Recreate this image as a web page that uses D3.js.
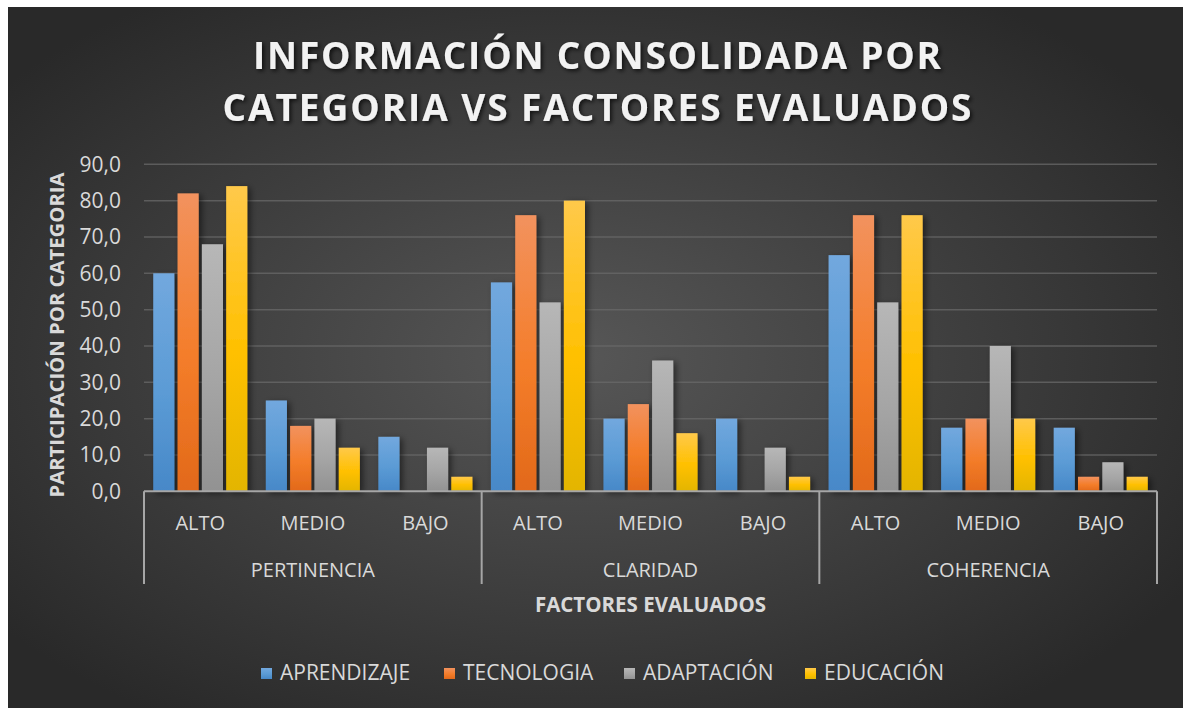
<!DOCTYPE html>
<html>
<head>
<meta charset="utf-8">
<script src="https://cdn.jsdelivr.net/npm/d3@7"></script>
<style>
  body { margin: 0; background: #fff; }
  text { font-family: "Open Sans", "Noto Sans", sans-serif; }
</style>
</head>
<body>
<div id="chart"></div>
<script>
// Data
var groups = ["PERTINENCIA", "CLARIDAD", "COHERENCIA"];
var levels = ["ALTO", "MEDIO", "BAJO"];
var seriesNames = ["APRENDIZAJE", "TECNOLOGIA", "ADAPTACIÓN", "EDUCACIÓN"];
var aprendizaje = [60, 25, 15, 57.5, 20, 20, 65, 17.5, 17.5];
var tecnologia  = [82, 18, 0, 76, 24, 0, 76, 20, 4];
var adaptacion  = [68, 20, 12, 52, 36, 12, 52, 40, 8];
var educacion   = [84, 12, 4, 80, 16, 4, 76, 20, 4];
var yTicks = [0, 10, 20, 30, 40, 50, 60, 70, 80, 90];
var titleLines = ["INFORMACIÓN CONSOLIDADA POR", "CATEGORIA VS FACTORES EVALUADOS"];

var seriesValues = [aprendizaje, tecnologia, adaptacion, educacion];

// colours: top, middle, bottom of the bar gradient
var seriesColors = [
  ["#72a8de", "#5b9bd5", "#4788c8"],
  ["#f2925e", "#f47d2a", "#e2691a"],
  ["#b7b7b7", "#a5a5a5", "#929292"],
  ["#ffc94a", "#ffc000", "#e3b500"]
];

var width = 1183, height = 708;
var plot = { left: 144, right: 1157, top: 164.3, bottom: 491.3 };
var textColor = "#d9d9d9";

// flat list of categories (group x level)
var cats = [];
groups.forEach(function(g) {
  levels.forEach(function(l) { cats.push(g + "|" + l); });
});

var svg = d3.select("#chart").append("svg")
  .attr("width", width)
  .attr("height", height);

var defs = svg.append("defs");

var bg = defs.append("radialGradient")
  .attr("id", "bg")
  .attr("cx", "0.48").attr("cy", "0.5").attr("r", "0.62");
bg.append("stop").attr("offset", "0").attr("stop-color", "#575757");
bg.append("stop").attr("offset", "1").attr("stop-color", "#292929");

seriesColors.forEach(function(c, i) {
  var g = defs.append("linearGradient")
    .attr("id", "grad" + i)
    .attr("x1", 0).attr("y1", 0).attr("x2", 0).attr("y2", 1);
  g.append("stop").attr("offset", "0").attr("stop-color", c[0]);
  g.append("stop").attr("offset", "0.55").attr("stop-color", c[1]);
  g.append("stop").attr("offset", "1").attr("stop-color", c[2]);
});

var shadow = defs.append("filter").attr("id", "shadow")
  .attr("x", "-30%").attr("y", "-10%").attr("width", "160%").attr("height", "130%");
shadow.append("feDropShadow")
  .attr("dx", 3).attr("dy", 2).attr("stdDeviation", 3)
  .attr("flood-color", "#000").attr("flood-opacity", 0.5);

var tshadow = defs.append("filter").attr("id", "tshadow")
  .attr("x", "-10%").attr("y", "-30%").attr("width", "120%").attr("height", "160%");
tshadow.append("feDropShadow")
  .attr("dx", 2).attr("dy", 2).attr("stdDeviation", 2)
  .attr("flood-color", "#000").attr("flood-opacity", 0.7);

// chart area background
svg.append("rect")
  .attr("x", 8).attr("y", 7)
  .attr("width", width - 8).attr("height", height - 7)
  .attr("fill", "url(#bg)");

// scales
var x = d3.scaleBand().domain(cats).range([plot.left, plot.right]);
var xGroup = d3.scaleBand().domain(groups).range([plot.left, plot.right]);
var xInner = d3.scaleBand().domain(d3.range(seriesNames.length))
  .range([0, x.bandwidth()])
  .paddingInner(0.13)
  .paddingOuter(0.38);
var y = d3.scaleLinear().domain([0, 90]).range([plot.bottom, plot.top]);

// gridlines
svg.append("g")
  .selectAll("line")
  .data(yTicks.slice(1))
  .enter().append("line")
  .attr("x1", plot.left).attr("x2", plot.right)
  .attr("y1", function(d) { return y(d); })
  .attr("y2", function(d) { return y(d); })
  .attr("stroke", "#6a6a6a")
  .attr("stroke-opacity", 0.75)
  .attr("stroke-width", 1.5);

// y axis labels
var yAxis = svg.append("g")
  .attr("transform", "translate(" + (plot.left - 12) + ",0)")
  .call(d3.axisLeft(y).tickValues(yTicks).tickSize(0)
    .tickFormat(function(d) { return d3.format(".1f")(d).replace(".", ","); }));
yAxis.select(".domain").remove();
yAxis.selectAll("text")
  .attr("x", -11)
  .attr("fill", textColor)
  .style("font-size", "21px")
  .style("font-family", "'Open Sans', sans-serif");

// bars
var series = svg.append("g").selectAll("g")
  .data(seriesValues)
  .enter().append("g")
  .attr("fill", function(d, i) { return "url(#grad" + i + ")"; })
  .attr("filter", "url(#shadow)");

series.each(function(vals, si) {
  d3.select(this).selectAll("rect")
    .data(vals)
    .enter().append("rect")
    .attr("x", function(d, ci) { return x(cats[ci]) + xInner(si); })
    .attr("width", xInner.bandwidth())
    .attr("y", function(d) { return y(d); })
    .attr("height", function(d) { return y(0) - y(d); });
});

// category axis
var axisColor = "#a6a6a6";
svg.append("line")
  .attr("x1", plot.left).attr("x2", plot.right)
  .attr("y1", y(0)).attr("y2", y(0))
  .attr("stroke", axisColor).attr("stroke-width", 2);

var seps = groups.map(function(g) { return xGroup(g); }).concat([plot.right]);
svg.append("g").selectAll("line")
  .data(seps)
  .enter().append("line")
  .attr("x1", function(d) { return d; }).attr("x2", function(d) { return d; })
  .attr("y1", y(0)).attr("y2", 584)
  .attr("stroke", axisColor).attr("stroke-width", 2);

svg.append("g").selectAll("text")
  .data(cats)
  .enter().append("text")
  .attr("x", function(d) { return x(d) + x.bandwidth() / 2; })
  .attr("y", 530)
  .attr("text-anchor", "middle")
  .attr("fill", textColor)
  .style("font-size", "20px")
  .text(function(d) { return d.split("|")[1]; });

svg.append("g").selectAll("text")
  .data(groups)
  .enter().append("text")
  .attr("x", function(d) { return xGroup(d) + xGroup.bandwidth() / 2; })
  .attr("y", 577)
  .attr("text-anchor", "middle")
  .attr("fill", textColor)
  .style("font-size", "20px")
  .text(function(d) { return d; });

// axis titles
svg.append("text")
  .attr("x", (plot.left + plot.right) / 2)
  .attr("y", 612)
  .attr("text-anchor", "middle")
  .attr("fill", textColor)
  .style("font-size", "20.5px")
  .style("font-weight", "bold")
  .text("FACTORES EVALUADOS");

svg.append("text")
  .attr("transform", "translate(64,335) rotate(-90)")
  .attr("text-anchor", "middle")
  .attr("fill", textColor)
  .attr("textLength", 325)
  .attr("lengthAdjust", "spacingAndGlyphs")
  .style("font-size", "20px")
  .style("font-weight", "bold")
  .text("PARTICIPACIÓN POR CATEGORIA");

// title
var titleWidths = [688, 749];
svg.append("g").attr("filter", "url(#tshadow)")
  .selectAll("text")
  .data(titleLines)
  .enter().append("text")
  .attr("x", 597)
  .attr("y", function(d, i) { return 69 + i * 52; })
  .attr("text-anchor", "middle")
  .attr("fill", "#f2f2f2")
  .attr("textLength", function(d, i) { return titleWidths[i]; })
  .attr("lengthAdjust", "spacing")
  .style("font-size", "37px")
  .style("font-weight", "bold")
  .text(function(d) { return d; });

// legend
var legendX = [261, 444, 624, 805];
var legend = svg.append("g").selectAll("g")
  .data(seriesNames)
  .enter().append("g")
  .attr("transform", function(d, i) { return "translate(" + legendX[i] + ",667)"; });

legend.append("rect")
  .attr("width", 11).attr("height", 11)
  .attr("y", 1)
  .attr("fill", function(d, i) { return "url(#grad" + i + ")"; });

legend.append("text")
  .attr("x", 19)
  .attr("y", 13)
  .attr("fill", textColor)
  .style("font-size", "21px")
  .text(function(d) { return d; });
</script>
</body>
</html>
